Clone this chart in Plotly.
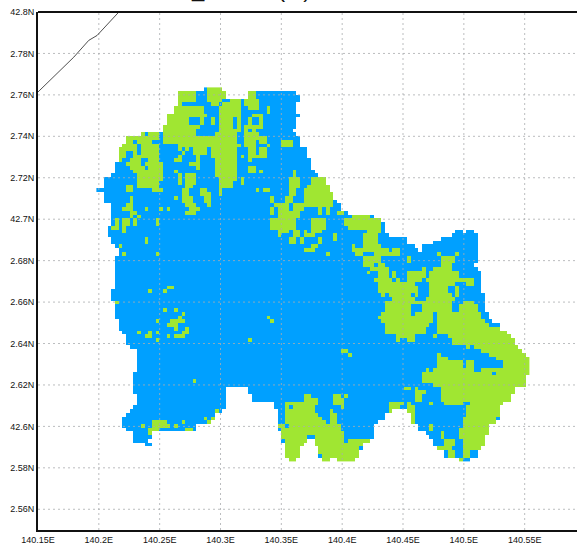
import plotly.graph_objects as go

LON_TICKS = [140.15, 140.2, 140.25, 140.3, 140.35, 140.4, 140.45, 140.5, 140.55]
LON_LABELS = ["140.15E", "140.2E", "140.25E", "140.3E", "140.35E", "140.4E", "140.45E", "140.5E", "140.55E"]
LAT_TICKS = [42.8, 42.78, 42.76, 42.74, 42.72, 42.7, 42.68, 42.66, 42.64, 42.62, 42.6, 42.58, 42.56]
LAT_LABELS = ["42.8N", "2.78N", "2.76N", "2.74N", "2.72N", "42.7N", "2.68N", "2.66N", "2.64N", "2.62N", "42.6N", "2.58N", "2.56N"]

COAST_LON = [140.15, 140.1671, 140.1794, 140.1917, 140.1986, 140.2163]
COAST_LAT = [42.7614, 42.771, 42.7782, 42.7863, 42.7887, 42.7999]

CELL_LON0 = 140.198
CELL_DLON = 0.003039
CELL_LAT0 = 42.76361
CELL_DLAT = 0.001807

# column runs per grid row (north to south)
LAND = [
"29-33","22-34 41-53","22-34 41-54","22-54","22-53","21-53","21-53","19-54","19-53","19-53",
"18-53","18-52","12-53","8-54","8-54","7-54","6-56","6-56","6-56","6-57",
"5-57","5-57","5-58","4-59","2-61","2-61","2-61","0-62","2-63","2-63",
"2-64","4-65","4-65","4-67","4-74","4-76","4-77","3-77","3-77 97-98 100-101","3-78 96-102",
"4-83 93-102","4-83 91-102","5-85 88-102","6-86 88-102","6-102","5-102","5-102","5-101","5-102","5-103",
"5-103","5-103","5-103","5-103","4-103","4-104","4-104","5-104","5-104","5-104",
"5-105","5-105","6-106","6-108","6-108","7-110","8-111","8-112","8-112","9-113",
"11-114","11-115","11-115","11-116","11-116","11-116","10-116","10-115","10-115","10-115",
"10-34 41-112","10-34 41-112","11-34 42-111","11-34 42-111","11-34 48-109","10-34 48-108","9-33 49-79 85-108","8-31 49-77 85-108","7-30 49-77 85-108","7-30 49-75 85-107",
"7-26 49-74 87-105","8-26 49-74 87-105","10-14 50-74 89-105","10-14 50-74 90-104","10-13 50-56 59-73 91-104","13-14 51-55 59-71 91-104","51-54 60-71 92-103","51-54 60-70 94-102","51-54 60-70 94-102","52-53 61-62 65-69 98-100",
]

GREEN = [
"30-33","22-26 30-34 41-42","22-26 30-34 41-42","22-26 30-33 36-38 40-43","22 31-32 34-38 40-43",
"21-28 33-38 41-43 46","21-28 33-38 46","19-29 33-38 42-44","19-24 28 31 33-36 38 41 44","19-24 28 31 33-36 38 41 44",
"18-27 33-36 38 40-44","18-26 33-38 40 42","12 14-16 18-26 32-37 40-43","8-16 18-37 40-45","8-9 11-14 18-37 40-42 44-45 50-52",
"7-10 12-16 22-38 40-42 46 50-52","6-10 12-16 22 24 26-29 31-37 41-42 44-45","6-7 10 12-16 23 26-29 31-37 41-42 44-45","6-7 10-16 22 27 31-37 39 41-42 43-45","6 9-11 14-16 21-22 27 32-37 41",
"8-11 13-17 25-27 32-37","9-12 14-17 27 32-37 41-42","10-17 21 32-37 41-42 44 53","11-17 22 24-26 32-37 53","11-17 22 24-26 33-37 39 52-54 58-61",
"11-16 22 24-26 33-36 39 52-54 58-61","8-9 11-16 24-25 33-36 52-54 57-62","8-9 15-17 23-24 28-29 33 43 45-46 52-53 56-62","23-24 28-30 33 52-53 56-63","9 21 23-25 29-30 47 51-52 56-63",
"9 23-25 29-30 47 51-52 56-63","8-9 24-26 30 48-51 53-63","7-9 13 17 19 25-27 47 49-51 53-55 60 62","9-10 24-26 47 49-54 60 62 65-66","9 11 49-54 69-73",
"5 7-8 10 16 47-53 58-61 67-76","5 7-8 10 16 47-53 58-61 67-76","4-5 7 47-53 58-61 68-76","7 49-51 53-54 56 58-60 73-76","49 53-54 56-58 64 72-75",
"13 52-53 55 60 64 72-75","13 52-53 55 60 72-75","6 58-59 69 72-76","56-58 69-78 80-81","7 16 62 70-71 75-81 92 97",
"72-76 84 93-96","72-76 84 93-96","72-74 76-77 93-95","74-78 88 91-95","73 76-78 80 84-88 90-97",
"76-78 80 84-88 90-97","75-79 81 84-87 89-101","76-85 90-96 100-101","19-20 76-86 90-94 97","14 18 76-86 90-94 97",
"77 79-84 86 90-95 97","80-85 89-96","5 78-95 99-101","78-84 88-95 98-102","18 21 78-84 88-95 98-102",
"23 77-84 86-90 92-103","22 46 76-90 92-103","16 20-23 47 77-90 92-104","19-21 78-89 92-105","21 24 78-88 92-108",
"11 14 16 23-24 78-88 92-110","13-14 19 21-23 81-85 91 95-111","16 41 81 84-85 96-112","96-112","100 102-113",
"66-67 104-114","68 92 106-115","92-94 108-116","92-98 100-101 110-116","92-98 100-101 110-116",
"89 91-101 104-116","88-106 108-116","88-115","26 88-115","91-115",
"83-84 86 93-112","86-88 93-112","56-57 64-65 67 86-87 93-111","56-59 64-66 86-87 93-111","51-53 54-59 64-66 79-82 84 90 94-98 101-109",
"51 53-58 66 79-81 84-85 100-108","32 51-58 63 79 84-85 100-108","51-59 63-64 85 100-108","29 31 51-60 63-64 85 99-107","15-18 23 30 51-61 63-64 85 99-107",
"12 15-19 21 49-50 52-65 90 99-105","14-16 24-25 50-65 90 98-105","14 50-66 93 98-105","50-56 59-66 93 98-104","51-56 59-66 68-73 94-96 99-104",
"51-55 59-67 68-71 94-96 99-104","51-54 60-70 92-95 99-103","51-54 60-70 95-96 99-100","51-54 61-70 95-96 99-100","52-53 61-62 65-69 98",
]

BLUE = "#00a0ff"
LIME = "#a0e632"


def parse(row):
    out = []
    for part in row.split():
        a, _, b = part.partition("-")
        out.append((int(a), int(b or a)))
    return out


n_cols = 117
z = []
for land_row, green_row in zip(LAND, GREEN):
    cells = [None] * n_cols
    for a, b in parse(land_row):
        for c in range(a, b + 1):
            cells[c] = 0
    for a, b in parse(green_row):
        for c in range(a, b + 1):
            cells[c] = 1
    z.append(cells)

lons = [CELL_LON0 + (c + 0.5) * CELL_DLON for c in range(n_cols)]
lats = [CELL_LAT0 - (r + 0.5) * CELL_DLAT for r in range(len(z))]

X_RANGE = [140.15, 140.593]
Y_RANGE = [42.55, 42.8]

fig = go.Figure()
fig.add_trace(go.Heatmap(
    x=lons, y=lats, z=z, zmin=0, zmax=1, showscale=False, hoverongaps=False,
    colorscale=[[0, BLUE], [0.5, BLUE], [0.5, LIME], [1, LIME]],
))

grid_x, grid_y = [], []
for lon in LON_TICKS[1:]:
    grid_x += [lon, lon, None]
    grid_y += [Y_RANGE[0], Y_RANGE[1], None]
for lat in LAT_TICKS[1:]:
    grid_x += [X_RANGE[0], X_RANGE[1], None]
    grid_y += [lat, lat, None]
fig.add_trace(go.Scatter(
    x=grid_x, y=grid_y, mode="lines", hoverinfo="skip", showlegend=False,
    line=dict(color="rgba(170,172,175,0.8)", width=1, dash="2px,3px"),
))
fig.add_trace(go.Scatter(
    x=COAST_LON, y=COAST_LAT, mode="lines", hoverinfo="skip", showlegend=False,
    line=dict(color="#222222", width=0.8),
))

tick_font = dict(family="Liberation Sans, Arial", size=9, color="#111111")
fig.update_layout(
    width=577, height=547,
    margin=dict(l=37.5, r=0, t=11.5, b=17),
    paper_bgcolor="white", plot_bgcolor="white",
    showlegend=False,
    xaxis=dict(range=X_RANGE, tickvals=LON_TICKS, ticktext=LON_LABELS, tickangle=0,
               showgrid=False, zeroline=False, showline=True, linecolor="#111111", linewidth=2,
               ticks="", tickfont=tick_font, mirror=False),
    yaxis=dict(range=Y_RANGE, tickvals=LAT_TICKS, ticktext=LAT_LABELS,
               showgrid=False, zeroline=False, showline=True, linecolor="#111111", linewidth=2,
               ticks="", tickfont=tick_font, mirror=False),
    shapes=[dict(type="line", xref="paper", yref="paper", x0=0, x1=1, y0=1, y1=1,
                 line=dict(color="#111111", width=2))],
    annotations=[dict(text="LU_INDEX (m)", xref="paper", yref="paper", x=0.2308, y=1,
                      xanchor="left", yanchor="bottom", yshift=8, showarrow=False,
                      font=dict(family="Liberation Sans", size=22, color="#111111"))],
)
fig.write_html("out.html", config=dict(displayModeBar=False),
               post_script="document.body.style.margin='0';document.documentElement.style.overflow='hidden';")
